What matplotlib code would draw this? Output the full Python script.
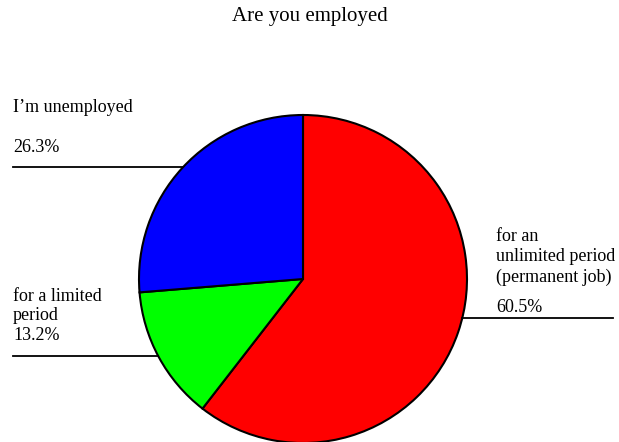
import numpy as np
import matplotlib.pyplot as plt

# Survey answers, in drawing order (clockwise from 12 o'clock)
answers = ['for an\nunlimited period\n(permanent job)', 'for a limited\nperiod', 'I\u2019m unemployed']
shares = [60.5, 13.2, 26.3]
colors = ['#ff0000', '#00ff00', '#0000ff']

W, H = 619, 442
fig = plt.figure(figsize=(W / 100, H / 100), dpi=100)
plt.rcParams['font.family'] = ['Liberation Serif', 'DejaVu Serif']

# square axes so that radius 1 is 164 px, centred at (303, 279) px
cx, cy, r = 303, 279, 164
ax = fig.add_axes([(cx - r) / W, (H - cy - r) / H, 2 * r / W, 2 * r / H])
ax.pie(shares, colors=colors, startangle=90, counterclock=False, radius=1,
       wedgeprops=dict(edgecolor='black', linewidth=1.5))
ax.set_xlim(-1, 1)
ax.set_ylim(-1, 1)
ax.set_aspect('equal')
ax.axis('off')


def px(x, y):
    # pixel position -> pie data coordinates
    return (x - cx) / r, (cy - y) / r


def leader(y_px, x_end_px, side):
    yd = px(0, y_px)[1]
    xe = np.sqrt(1 - yd ** 2) * side
    xo = px(x_end_px, 0)[0]
    ax.plot([xo, xe], [yd, yd], color='black', lw=1.3, clip_on=False)


fs = 13
ls = 1.22
# unlimited period (right)
x0, _ = px(496, 0)
ax.text(x0, px(0, 257)[1], answers[0], fontsize=fs, ha='left', va='center',
        linespacing=ls, clip_on=False)
ax.text(x0, px(0, 307)[1], f'{shares[0]}%', fontsize=fs, ha='left', va='center', clip_on=False)
leader(318, 613, 1)

# limited period (left, lower)
x1, _ = px(13, 0)
ax.text(x1, px(0, 316)[1], answers[1] + f'\n{shares[1]}%', fontsize=fs, ha='left',
        va='center', linespacing=ls, clip_on=False)
leader(356, 13, -1)

# unemployed (left, upper)
ax.text(x1, px(0, 108)[1], answers[2], fontsize=fs, ha='left', va='center', clip_on=False)
ax.text(x1, px(0, 148)[1], f'{shares[2]}%', fontsize=fs, ha='left', va='center', clip_on=False)
leader(167, 13, -1)

fig.text(310 / W, 1 - 16 / H, 'Are you employed', fontsize=15, ha='center', va='center')

fig.savefig('out.png', dpi=100)
